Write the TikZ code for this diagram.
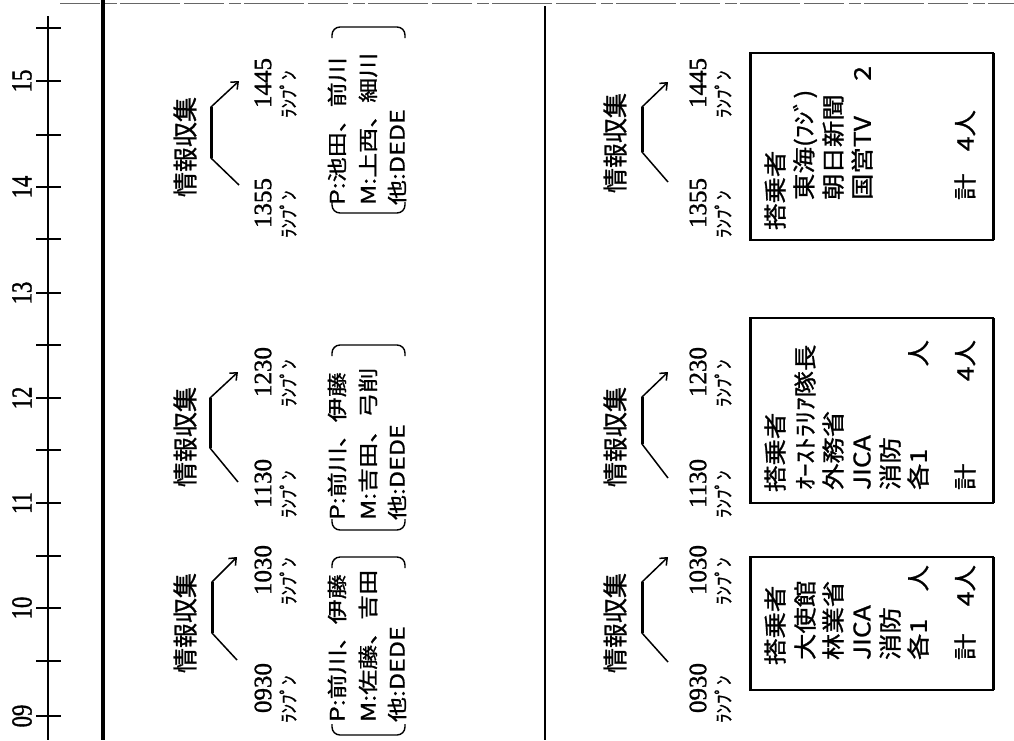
\documentclass[tikz,border=0pt]{standalone}
\usepackage{fontspec}
\newfontfamily\jp[FakeBold=1]{Noto Sans CJK JP}
\newfontfamily\jpb[FakeStretch=1.25,FakeBold=1]{Noto Sans CJK JP}
\newfontfamily\jpx[FakeStretch=1.15,FakeBold=1]{Noto Sans CJK JP}
\newfontfamily\numf[FakeBold=1.2]{Liberation Serif}
\newfontfamily\axf[FakeStretch=0.78,FakeBold=1.2]{Liberation Serif}
\usetikzlibrary{arrows.meta}
\begin{document}
\begin{tikzpicture}[x=1pt,y=-1pt,
  rt/.style={rotate=90,inner sep=0pt,outer sep=0pt,anchor=west},
  tm/.style={rt,font=\numf\fontsize{25}{25}\selectfont},
  kt/.style={rt,font=\jp\fontsize{19}{19}\selectfont},
  hd/.style={rt,font=\jp\fontsize{25}{25}\selectfont},
  br/.style={rt,font=\jpb\fontsize{20}{20}\selectfont},
  bx/.style={rt,font=\jpx\fontsize{23}{23}\selectfont},
  ax/.style={rotate=90,inner sep=0pt,font=\axf\fontsize{29}{29}\selectfont},
  flow/.style={line width=1.5pt,-{Straight Barb[length=6pt,width=10pt]}},
  thickv/.style={line width=3pt},
  brk/.style={line width=1.4pt,rounded corners=8pt},
  boxf/.style={line width=1.1pt},
  boxs/.style={line width=3pt},
  tick/.style={line width=1.8pt},
]
\useasboundingbox (0,0) rectangle (1014,740);
\fill[white] (0,0) rectangle (1014,740);
% scan border and rules
\draw[line width=0.8pt,black!60,dash pattern=on 40pt off 5pt on 12pt off 3pt on 60pt off 4pt] (60,3) -- (1014,3);
\draw[line width=3.5pt] (103,0) -- (103,740);
\draw[line width=2.5pt] (545,6) -- (545,740);
% time axis
\draw[line width=1.6pt] (48,16) -- (48,740);
\foreach \h/\y in {09/716,10/608,11/503,12/398,13/293,14/187,15/81}{
  \draw[tick] (36,\y) -- (61,\y);
  \node[ax] (ax\h) at (22,\y) {\h};
}
\foreach \y in {661,556,450,345,239,135,28}{
  \draw[tick,line width=1.4pt] (36,\y) -- (61,\y);
}
% ---------- left half ----------
\node[hd] (hL1) at (185,673) {情報収集};
\node[hd] (hL2) at (185,487) {情報収集};
\node[hd] (hL3) at (185,197) {情報収集};
\foreach \s/\xd/\xk in {L/263/288,R/698/723}{
  \node[tm] (t0930\s) at (\xd,713) {0930};
  \node[kt] (k0930\s) at (\xk,723) {ﾗﾝﾌﾟﾝ};
  \node[tm] (t1030\s) at (\xd,595) {1030};
  \node[kt] (k1030\s) at (\xk,605) {ﾗﾝﾌﾟﾝ};
  \node[tm] (t1130\s) at (\xd,508) {1130};
  \node[kt] (k1130\s) at (\xk,518) {ﾗﾝﾌﾟﾝ};
  \node[tm] (t1230\s) at (\xd,397) {1230};
  \node[kt] (k1230\s) at (\xk,407) {ﾗﾝﾌﾟﾝ};
  \node[tm] (t1355\s) at (\xd,228) {1355};
  \node[kt] (k1355\s) at (\xk,238) {ﾗﾝﾌﾟﾝ};
  \node[tm] (t1445\s) at (\xd,108) {1445};
  \node[kt] (k1445\s) at (\xk,118) {ﾗﾝﾌﾟﾝ};
}
% arrows
\foreach \n/\xa/\xb/\ya/\yb/\yc/\yd in {L1/237/212/660/633/582/557,L2/238/210/482/448/398/372,L3/239/211/185/158/107/81,
  R1/668/642/662/633/582/557,R2/668/642/478/444/397/372,R3/668/642/182/152/107/82}{
  \coordinate (\n a) at (\xa,\ya);
  \coordinate (\n b) at (\xb,\yb);
  \coordinate (\n c) at (\xb,\yc);
  \coordinate (\n d) at (\xa,\yd);
  \draw[flow] (\n a) -- (\n b) -- (\n c) -- (\n d);
  \draw[thickv] (\n b) -- (\n c);
}
% bracketed crews
\node[br] (pL1) at (337,722) {P:前川、伊藤};
\node[br] (mL1) at (368,722) {M:佐藤、吉田};
\node[br] (oL1) at (397,722) {他:DEDE};
\node[br] (pL2) at (337,520) {P:前川、伊藤};
\node[br] (mL2) at (368,520) {M:吉田、弓削};
\node[br] (oL2) at (397,520) {他:DEDE};
\node[br] (pL3) at (337,205) {P:池田、前川};
\node[br] (mL3) at (368,205) {M:上西、細川};
\node[br] (oL3) at (397,205) {他:DEDE};
\foreach \yt/\yb in {557/735,345/530,27/213}{
  \draw[brk] (332,\yt+11) -- (332,\yt) -- (405,\yt) -- (405,\yt+11);
  \draw[brk] (332,\yb-11) -- (332,\yb) -- (405,\yb) -- (405,\yb-11);
}
% ---------- right half ----------
\node[hd] (hR1) at (615,673) {情報収集};
\node[hd] (hR2) at (615,487) {情報収集};
\node[hd] (hR3) at (615,193) {情報収集};
% boxes
\foreach \yt/\yb in {557/690,318/503,53/240}{
  \draw[boxf] (750,\yt) rectangle (993,\yb);
  \draw[boxs] (750,\yt) -- (750,\yb);
  \draw[boxs] (993,\yt) -- (993,\yb);
}
% box 1
\node[bx] (b1a) at (775,665) {搭乗者};
\node[bx] (b1b) at (805,660) {大使館};
\node[bx] (b1c) at (833,660) {林業省};
\node[bx] (b1d) at (862,660) {JICA};
\node[bx] (b1e) at (890,660) {消防};
\node[bx] (b1f) at (918,660) {\makebox[95pt][l]{各1\hfill 人}};
\node[bx] (b1g) at (965,660) {\makebox[95pt][l]{計\hfill 4人}};
% box 2
\node[bx] (b2a) at (775,492) {搭乗者};
\node[bx] (b2b) at (805,490) {ｵｰｽﾄﾗﾘｱ隊長};
\node[bx] (b2c) at (833,490) {外務省};
\node[bx] (b2d) at (862,490) {JICA};
\node[bx] (b2e) at (890,490) {消防};
\node[bx] (b2f) at (918,490) {\makebox[150pt][l]{各1\hfill 人}};
\node[bx] (b2g) at (965,490) {\makebox[150pt][l]{計\hfill 4人}};
% box 3
\node[bx] (b3a) at (775,230) {搭乗者};
\node[bx] (b3b) at (805,200) {東海(ﾌｼﾞ)};
\node[bx] (b3c) at (833,200) {朝日新聞};
\node[bx] (b3d) at (862,200) {\makebox[134pt][l]{国営TV\hfill 2}};
\node[bx] (b3e) at (965,200) {\makebox[90pt][l]{計\hfill 4人}};
\end{tikzpicture}
\end{document}
